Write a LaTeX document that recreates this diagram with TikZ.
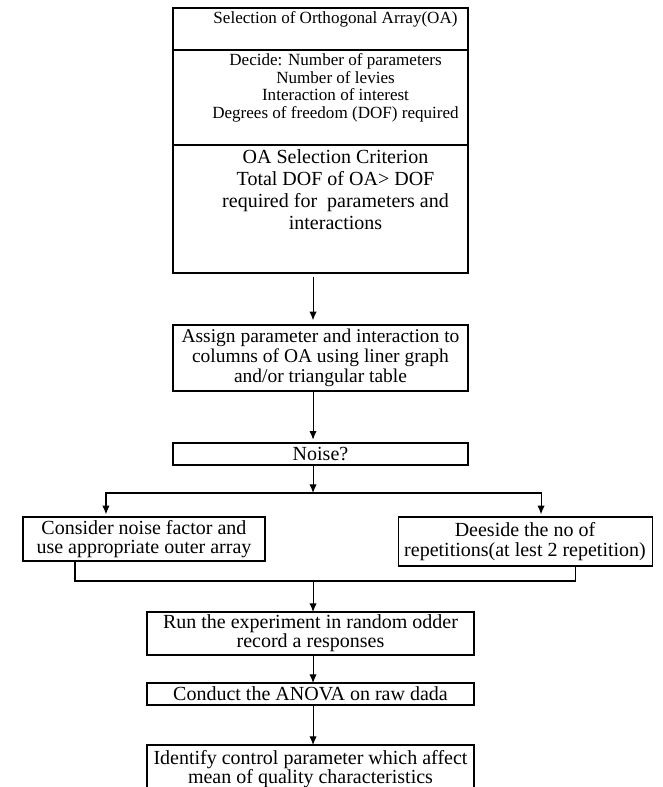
\documentclass[tikz,border=0pt]{standalone}
\usepackage{fontspec}
\setmainfont{Liberation Serif}
\usetikzlibrary{positioning,arrows.meta}

\newcommand{\secbox}[3]{\hspace*{22.5pt}\parbox[t][#1][t]{198.75pt}{\centering\vspace*{#2}#3}}

\begin{document}
\begin{tikzpicture}[>={Latex[length=6.5pt,width=5.5pt]}, line width=0.8pt,
    sect/.style={draw, inner sep=0pt, outer sep=0pt},
    box/.style={draw, inner sep=1pt, outer sep=0pt, align=center, font=\fontsize{15}{14.5}\selectfont}]
  \useasboundingbox (0,0) rectangle (496.5pt,-590.25pt);

  \node [sect,anchor=north west,font=\fontsize{12.8}{13.3}\selectfont] (1) at (129.75pt,-6pt)
    {\secbox{31.5pt}{2.5pt}{Selection of Orthogonal Array(OA)}};
  \node [sect,below=0pt of 1,font=\fontsize{12.8}{13.3}\selectfont] (2)
    {\secbox{71.25pt}{2.5pt}{Decide: Number of parameters\\Number of levies\\Interaction of interest\\Degrees of freedom (DOF) required}};
  \node [sect,below=0pt of 2,font=\fontsize{15}{16.5}\selectfont] (3)
    {\secbox{96pt}{3.3pt}{OA Selection Criterion\\Total DOF of OA> DOF\\required for\ \ parameters and\\interactions}};

  \node [box,below=39pt of 3,minimum width=221.25pt,minimum height=49.5pt,font=\fontsize{14.6}{15}\selectfont] (4)
    {Assign parameter and interaction to\\columns of OA using liner graph\\and/or triangular table};
  \node [box,below=39pt of 4,minimum width=221.25pt,minimum height=16.5pt] (5) {Noise?};
  \node [box,below=39pt of 5,xshift=-132.4pt,minimum width=181.5pt,minimum height=33pt] (6)
    {Consider noise factor and\\use appropriate outer array};
  \node [box,below=39pt of 5,xshift=153.4pt,minimum width=190.5pt,minimum height=36.75pt] (7)
    {Deeside the no of\\repetitions(at lest 2 repetition)};
  \node [box,below=110.25pt of 5,xshift=-7.5pt,minimum width=245.25pt,minimum height=32.25pt] (8)
    {Run the experiment in random odder\\record a responses};
  \node [box,below=21pt of 8,minimum width=245.25pt,minimum height=16.5pt] (9) {Conduct the ANOVA on raw dada};
  \node [box,below=30pt of 9,minimum width=245.25pt,minimum height=36pt] (10)
    {Identify control parameter which affect\\mean of quality characteristics};

  \coordinate [below=21pt of 5,xshift=-5.6pt] (a);
  \coordinate [above=23.25pt of 8,xshift=1.9pt] (b);

  \draw[->,shorten <=3pt,shorten >=3.5pt] ([xshift=-5.6pt]3.south) -- ([xshift=-5.6pt]4.north);
  \draw[->,shorten >=2.5pt] ([xshift=-5.6pt]4.south) -- ([xshift=-5.6pt]5.north);
  \draw[->] ([xshift=-5.6pt]5.south) -- (a);
  \draw[->,shorten >=2pt] (a) -| ([xshift=-28.5pt]6.north);
  \draw[->,shorten >=2pt] (a) -| ([xshift=12pt]7.north);
  \draw ([xshift=-51.75pt]6.south) |- (b) -| ([xshift=37.5pt]7.south);
  \draw[->] (b) -- (b |- 8.north);
  \draw[->] ([xshift=1.9pt]8.south) -- ([xshift=1.9pt]9.north);
  \draw[->] ([xshift=1.9pt]9.south) -- ([xshift=1.9pt]10.north);
\end{tikzpicture}
\end{document}
